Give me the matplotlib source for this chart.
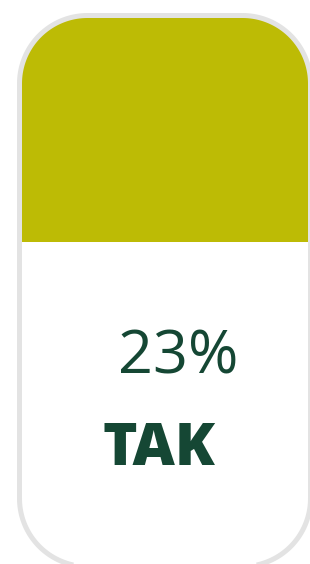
import matplotlib
matplotlib.use("Agg")
import matplotlib.pyplot as plt
import numpy as np
from matplotlib.patches import PathPatch, Rectangle
from matplotlib.path import Path

# data
value_pct = [23]
labels = ["TAK"]
fill_level = [0.411]  # share of the capsule filled from the top (as drawn)

W, H = 310, 564
fig = plt.figure(figsize=(W / 100, H / 100), dpi=100)
ax = fig.add_axes([0, 0, 1, 1])
ax.set_xlim(0, W)
ax.set_ylim(H, 0)
ax.axis("off")

olive = "#BDBB05"
border = "#E3E3E3"
green = "#154734"

x0, y0, x1, y1 = 19.5, 15.5, 310.5, 566.5
r = 68


def rounded_rect(x0, y0, x1, y1, r, n=40):
    pts = []
    corners = [
        (x1 - r, y0 + r, -90, 0),
        (x1 - r, y1 - r, 0, 90),
        (x0 + r, y1 - r, 90, 180),
        (x0 + r, y0 + r, 180, 270),
    ]
    for cx, cy, a0, a1 in corners:
        t = np.radians(np.linspace(a0, a1, n))
        pts.extend(zip(cx + r * np.cos(t), cy + r * np.sin(t)))
    pts.append(pts[0])
    codes = [Path.MOVETO] + [Path.LINETO] * (len(pts) - 2) + [Path.CLOSEPOLY]
    return Path(pts, codes)


pill_path = rounded_rect(x0, y0, x1, y1, r)
pill = PathPatch(pill_path, facecolor="white", edgecolor="none", zorder=1)
ax.add_patch(pill)

fill_bottom = y0 + fill_level[0] * (y1 - y0)
fill = Rectangle((x0 - 5, y0 - 5), (x1 - x0) + 10, fill_bottom - (y0 - 5),
                 facecolor=olive, edgecolor="none", zorder=2)
ax.add_patch(fill)
fill.set_clip_path(pill)

outline = PathPatch(pill_path, facecolor="none", edgecolor=border,
                    linewidth=5 * 0.72, zorder=3)
ax.add_patch(outline)

ax.text(178, 373, f"{value_pct[0]}%", ha="center", va="baseline",
        fontsize=44, color=green, family=["Open Sans", "DejaVu Sans"], zorder=4)
ax.text(159, 465, labels[0], ha="center", va="baseline",
        fontsize=42, fontweight="heavy", color=green,
        family=["Open Sans", "DejaVu Sans"], zorder=4)

fig.savefig("out.png", dpi=100)
